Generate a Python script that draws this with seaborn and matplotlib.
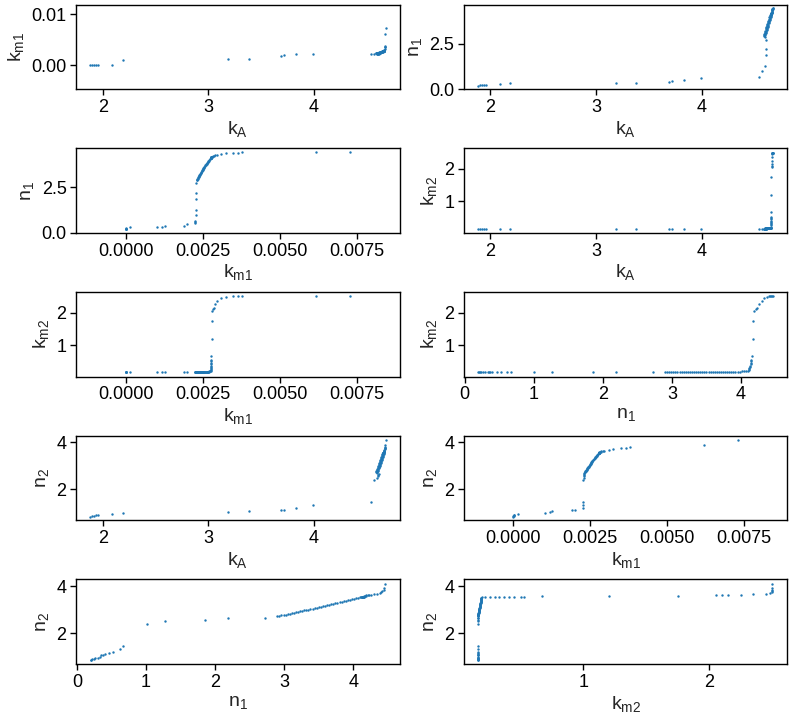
import matplotlib
matplotlib.use("Agg")
import matplotlib.pyplot as plt
import seaborn as sns
import pandas as pd

# =============================
# Data (one row per sample)
# =============================
kA = [1.88, 1.90, 1.92, 1.94, 1.96, 2.09, 2.19, 3.19, 3.38, 3.69, 3.72, 3.83, 3.99, 4.54,
      4.57, 4.60, 4.605, 4.61, 4.612,
      4.595, 4.587, 4.598, 4.590, 4.601, 4.593, 4.605, 4.596, 4.608, 4.599, 4.611, 4.603, 4.614, 4.606,
      4.617, 4.609, 4.621, 4.612, 4.624, 4.615, 4.627, 4.619, 4.630, 4.622, 4.633, 4.625, 4.637, 4.628,
      4.640, 4.631, 4.643, 4.635, 4.646, 4.638, 4.649, 4.641, 4.653, 4.644, 4.656, 4.647, 4.658,
      4.653, 4.654, 4.654, 4.655, 4.655, 4.656, 4.656, 4.657, 4.657, 4.658, 4.659, 4.660, 4.661, 4.662,
      4.663, 4.664, 4.665,
      4.666, 4.667, 4.668, 4.670, 4.672, 4.675, 4.678]

km1 = [0.0, 0.0, 0.00001, 0.00002, 0.00003, 0.00015, 0.00103, 0.00118, 0.00127, 0.00190, 0.00200,
       0.00225, 0.00226, 0.00227,
       0.00228, 0.00229, 0.00229, 0.00230, 0.00230,
       0.00231, 0.00232, 0.00233, 0.00234, 0.00235, 0.00236, 0.00237, 0.00238, 0.00239, 0.00240,
       0.00241, 0.00242, 0.00243, 0.00244, 0.00245, 0.00246, 0.00247, 0.00248, 0.00249, 0.00250,
       0.00251, 0.00252, 0.00253, 0.00254, 0.00255, 0.00256, 0.00257, 0.00259, 0.00260, 0.00261,
       0.00263, 0.00264, 0.00265, 0.00267, 0.00268, 0.00269, 0.00271, 0.00272, 0.00273, 0.00275, 0.00276,
       0.00277, 0.00277, 0.00277, 0.00277, 0.00278, 0.00278, 0.00278, 0.00278, 0.00279, 0.00279,
       0.00280, 0.00281, 0.00282, 0.00284, 0.00286, 0.00290, 0.00296,
       0.00310, 0.00325, 0.00350, 0.00365, 0.00378, 0.00620, 0.00730]

n1 = [0.20, 0.21, 0.22, 0.24, 0.26, 0.30, 0.34, 0.35, 0.37, 0.40, 0.47, 0.52, 0.62, 0.67,
      1.01, 1.27, 1.86, 2.19, 2.72,
      2.90, 2.93, 2.96, 2.99, 3.02, 3.05, 3.08, 3.11, 3.14, 3.17, 3.20, 3.23, 3.26, 3.29, 3.32, 3.35,
      3.38, 3.41, 3.44, 3.47, 3.50, 3.53, 3.56, 3.59, 3.62, 3.65, 3.68, 3.71, 3.74, 3.77, 3.80, 3.83,
      3.86, 3.89, 3.92, 3.95, 3.98, 4.01, 4.04, 4.07, 4.10,
      4.11, 4.12, 4.12, 4.13, 4.13, 4.14, 4.14, 4.15, 4.15, 4.16, 4.17, 4.18, 4.19, 4.21, 4.23, 4.26, 4.30,
      4.34, 4.38, 4.40, 4.42, 4.44, 4.45, 4.46]

km2 = [0.16, 0.16, 0.16, 0.16, 0.16, 0.16, 0.16, 0.16, 0.16, 0.16, 0.16, 0.16, 0.16, 0.16,
       0.16, 0.16, 0.16, 0.16, 0.16,
       0.160, 0.161, 0.162, 0.162, 0.163, 0.164, 0.164, 0.165, 0.166, 0.167, 0.167, 0.168, 0.169, 0.170,
       0.170, 0.171, 0.172, 0.173, 0.173, 0.174, 0.175, 0.176, 0.176, 0.177, 0.178, 0.179, 0.179, 0.180,
       0.181, 0.182, 0.182, 0.183, 0.184, 0.185, 0.185, 0.186, 0.187, 0.188, 0.188, 0.189, 0.190,
       0.22, 0.26, 0.30, 0.33, 0.37, 0.41, 0.45, 0.50, 0.53, 0.67, 1.20, 1.75, 2.05, 2.10, 2.15, 2.25, 2.35,
       2.45, 2.48, 2.50, 2.50, 2.50, 2.50, 2.50]

n2 = [0.84, 0.86, 0.88, 0.90, 0.92, 0.95, 0.98, 1.05, 1.07, 1.10, 1.13, 1.20, 1.32, 1.45,
      2.40, 2.50, 2.55, 2.62, 2.66,
      2.71, 2.73, 2.75, 2.76, 2.78, 2.80, 2.82, 2.84, 2.86, 2.88, 2.90, 2.92, 2.94, 2.96, 2.97, 2.99,
      3.01, 3.03, 3.05, 3.07, 3.09, 3.11, 3.13, 3.15, 3.18, 3.20, 3.22, 3.24, 3.26, 3.28, 3.31, 3.33,
      3.35, 3.37, 3.39, 3.41, 3.44, 3.46, 3.48, 3.50, 3.52,
      3.53, 3.53, 3.53, 3.54, 3.54, 3.54, 3.55, 3.55, 3.55, 3.56, 3.58, 3.59, 3.60, 3.61, 3.62, 3.63, 3.65,
      3.68, 3.72, 3.75, 3.78, 3.82, 3.90, 4.10]

df = pd.DataFrame({"kA": kA, "km1": km1, "n1": n1, "km2": km2, "n2": n2})

# panel order: (x, y)
pairs = [("kA", "km1"), ("kA", "n1"),
         ("km1", "n1"), ("kA", "km2"),
         ("km1", "km2"), ("n1", "km2"),
         ("kA", "n2"), ("km1", "n2"),
         ("n1", "n2"), ("km2", "n2")]

labels = {"kA": r"$k_A$", "km1": r"$k_{m1}$", "n1": r"$n_1$",
          "km2": r"$k_{m2}$", "n2": r"$n_2$"}

xlims = {"kA": (1.75, 4.81), "km1": (-0.0016, 0.0089), "n1": (-0.01, 4.67), "km2": (0.05, 2.62)}
ylims = {"km1": (-0.0047, 0.0119), "n1": (0.0, 4.65), "km2": (0.03, 2.63), "n2": (0.68, 4.28)}
xticks = {"kA": [2, 3, 4], "km1": [0.0, 0.0025, 0.005, 0.0075],
          "n1": [0, 1, 2, 3, 4], "km2": [1, 2]}
yticks = {"km1": [0.0, 0.01], "n1": [0.0, 2.5], "km2": [1, 2], "n2": [2, 4]}

# =============================
# Style
# =============================
sns.set_style("ticks")
plt.rcParams["font.family"] = ["Liberation Sans", "DejaVu Sans"]
plt.rcParams["mathtext.default"] = "regular"
plt.rcParams["axes.edgecolor"] = "black"
plt.rcParams["xtick.color"] = "black"
plt.rcParams["ytick.color"] = "black"

fig, axes = plt.subplots(5, 2, figsize=(7.93, 7.12), dpi=100)
fig.subplots_adjust(left=0.0962, right=0.9928, bottom=0.0674, top=0.9934,
                    wspace=0.199, hspace=0.70)

for ax, (xv, yv) in zip(axes.flat, pairs):
    sns.scatterplot(data=df, x=xv, y=yv, ax=ax, s=3, linewidth=0,
                    color="#1f77b4")
    ax.set_xlim(xlims[xv])
    ax.set_ylim(ylims[yv])
    ax.set_xticks(xticks[xv])
    ax.set_yticks(yticks[yv])
    ax.set_xlabel(labels[xv], fontsize=14, labelpad=2)
    ax.set_ylabel(labels[yv], fontsize=14, labelpad=4)
    ax.tick_params(labelsize=13, length=4, width=1, direction="out", pad=3)
    for sp in ax.spines.values():
        sp.set_linewidth(1)
        sp.set_color("black")

fig.savefig("out.png", dpi=100)
